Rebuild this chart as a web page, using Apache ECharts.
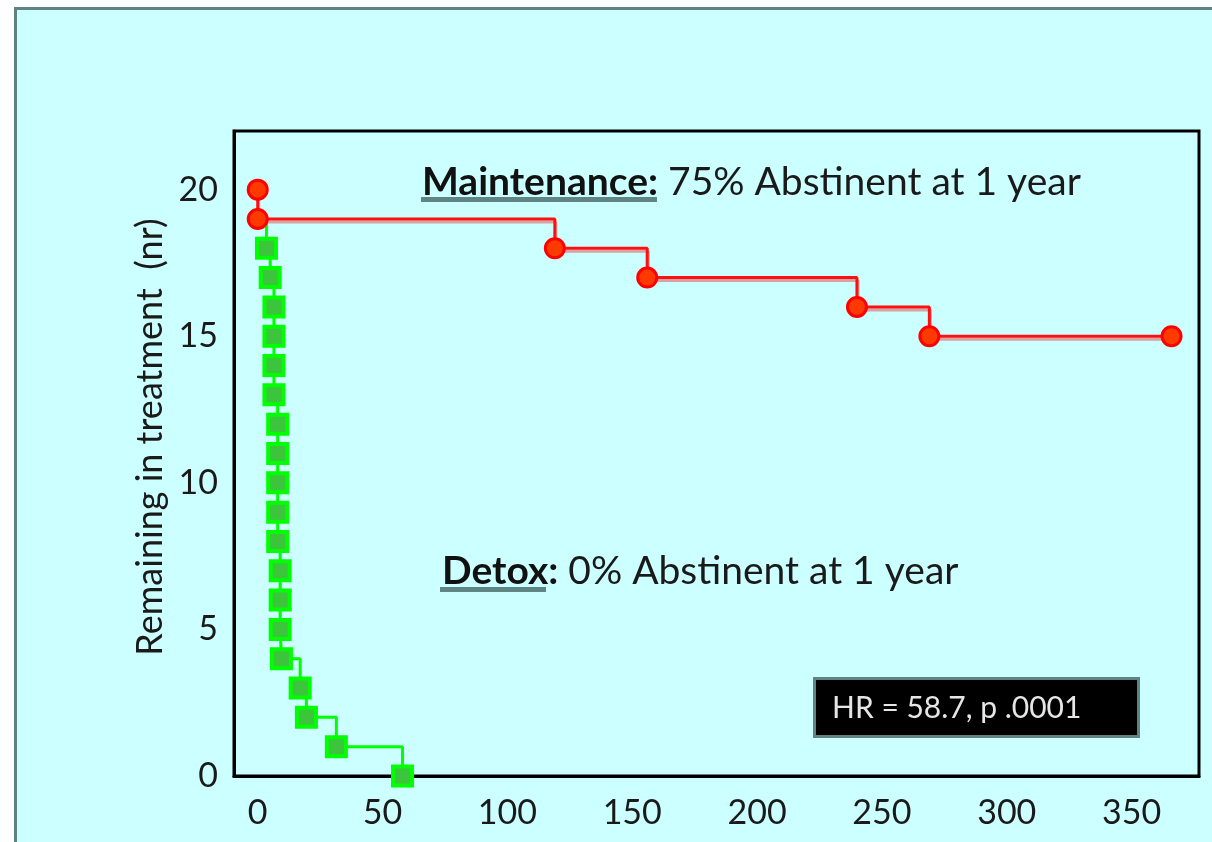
<!DOCTYPE html>
<html>
<head>
<meta charset="utf-8">
<script src="https://cdn.jsdelivr.net/npm/echarts@6/dist/echarts.min.js"></script>
<style>
  html, body { margin: 0; padding: 0; background: #ffffff; }
  #chart { width: 1212px; height: 842px; }
</style>
</head>
<body>
<div id="chart"></div>
<script>
// Days in treatment and number of patients still remaining (Kaplan-Meier style steps)
const xTicks = [0, 50, 100, 150, 200, 250, 300, 350];
const yTicks = [0, 5, 10, 15, 20];

const maintenanceDays = [0, 0, 119, 156, 240, 269, 366];
const maintenanceRemaining = [20, 19, 18, 17, 16, 15, 15];

const detoxDays = [0, 3.5, 5, 6.5, 6.5, 6.5, 6.5, 8, 8, 8, 8, 8, 9, 9, 9, 9.5, 17, 19.5, 31.5, 58];
const detoxRemaining = [19, 18, 17, 16, 15, 14, 13, 12, 11, 10, 9, 8, 7, 6, 5, 4, 3, 2, 1, 0];

const yAxisTitle = 'Remaining in treatment  (nr)';
const maintenanceNote = ['Maintenance:', ' 75% Abstinent at 1 year'];
const detoxNote = ['Detox:', ' 0% Abstinent at 1 year'];
const statsNote = 'HR = 58.7, p .0001';

const FONT = 'Lato, "Open Sans", sans-serif';

const maintenanceData = maintenanceDays.map((d, i) => [d, maintenanceRemaining[i]]);
const detoxData = detoxDays.map((d, i) => {
  // first point only anchors the line start, it carries no marker
  return i === 0 ? { value: [d, detoxRemaining[i]], symbol: 'none' } : [d, detoxRemaining[i]];
});

const noteRich = {
  b: { fontFamily: FONT, fontSize: 39, fontWeight: 'bold', fill: '#111111' },
  n: { fontFamily: FONT, fontSize: 39, fill: '#1a1a1a' }
};

const chart = echarts.init(document.getElementById('chart'), null, { renderer: 'canvas' });

chart.setOption({
  backgroundColor: '#ffffff',
  animation: false,
  grid: {
    left: 234, right: 13, top: 131, bottom: 66,
    show: true, borderColor: '#000000', borderWidth: 3, backgroundColor: 'transparent'
  },
  xAxis: {
    type: 'value', min: -9.5, max: 377,
    splitLine: { show: false },
    axisLine: { show: true, onZero: false, lineStyle: { color: '#000000', width: 3 } },
    axisTick: { show: false },
    axisLabel: {
      customValues: xTicks, margin: 20,
      fontFamily: FONT, fontSize: 34, color: '#1a1a1a'
    }
  },
  yAxis: {
    type: 'value', min: 0, max: 22,
    splitLine: { show: false },
    axisLine: { show: true, onZero: false, lineStyle: { color: '#000000', width: 3 } },
    axisTick: { show: false },
    axisLabel: {
      customValues: yTicks, margin: 16,
      fontFamily: FONT, fontSize: 34, color: '#1a1a1a'
    }
  },
  series: [
    {
      name: 'Detox',
      type: 'line',
      step: 'end',
      clip: false,
      data: detoxData,
      symbol: 'rect',
      symbolSize: 19,
      lineStyle: { color: '#00ff00', width: 3 },
      itemStyle: { color: '#3cc43c', borderColor: '#00ff00', borderWidth: 4 },
      z: 3
    },
    {
      name: 'Maintenance',
      type: 'line',
      step: 'end',
      clip: false,
      data: maintenanceData,
      symbol: 'circle',
      symbolSize: 19,
      lineStyle: {
        color: '#ff1010', width: 3,
        shadowColor: 'rgba(225,100,100,0.6)', shadowOffsetX: 1, shadowOffsetY: 3, shadowBlur: 0
      },
      itemStyle: { color: '#ff3a00', borderColor: '#ff0000', borderWidth: 3 },
      z: 4
    }
  ],
  graphic: [
    // outer frame of the figure
    {
      type: 'rect', z: -10, silent: true,
      shape: { x: 15.5, y: 8.5, width: 1300, height: 1000 },
      style: { fill: '#ccffff', stroke: '#5f8383', lineWidth: 3 }
    },
    // rotated y-axis title
    {
      type: 'text', z: 10,
      x: 150, y: 437, rotation: Math.PI / 2,
      style: {
        x: 0, y: 0, text: yAxisTitle,
        textAlign: 'center', textVerticalAlign: 'middle',
        font: '36px ' + FONT, fill: '#1a1a1a'
      }
    },
    {
      type: 'text', z: 10,
      style: {
        x: 422, y: 163,
        text: '{b|' + maintenanceNote[0] + '}{n|' + maintenanceNote[1] + '}',
        rich: noteRich
      }
    },
    {
      type: 'rect', z: 10,
      shape: { x: 421, y: 197, width: 236, height: 5 },
      style: { fill: '#5f8585' }
    },
    {
      type: 'text', z: 10,
      style: {
        x: 442, y: 552,
        text: '{b|' + detoxNote[0] + '}{n|' + detoxNote[1] + '}',
        rich: noteRich
      }
    },
    {
      type: 'rect', z: 10,
      shape: { x: 440, y: 587, width: 106, height: 5 },
      style: { fill: '#5f8585' }
    },
    {
      type: 'rect', z: 10,
      shape: { x: 814.5, y: 678.5, width: 324, height: 58 },
      style: { fill: '#000000', stroke: '#5f8383', lineWidth: 3 }
    },
    {
      type: 'text', z: 11,
      style: {
        x: 832, y: 708, textVerticalAlign: 'middle',
        text: statsNote,
        font: '30px ' + FONT, fill: '#e6e6e6'
      }
    }
  ]
});
</script>
</body>
</html>
